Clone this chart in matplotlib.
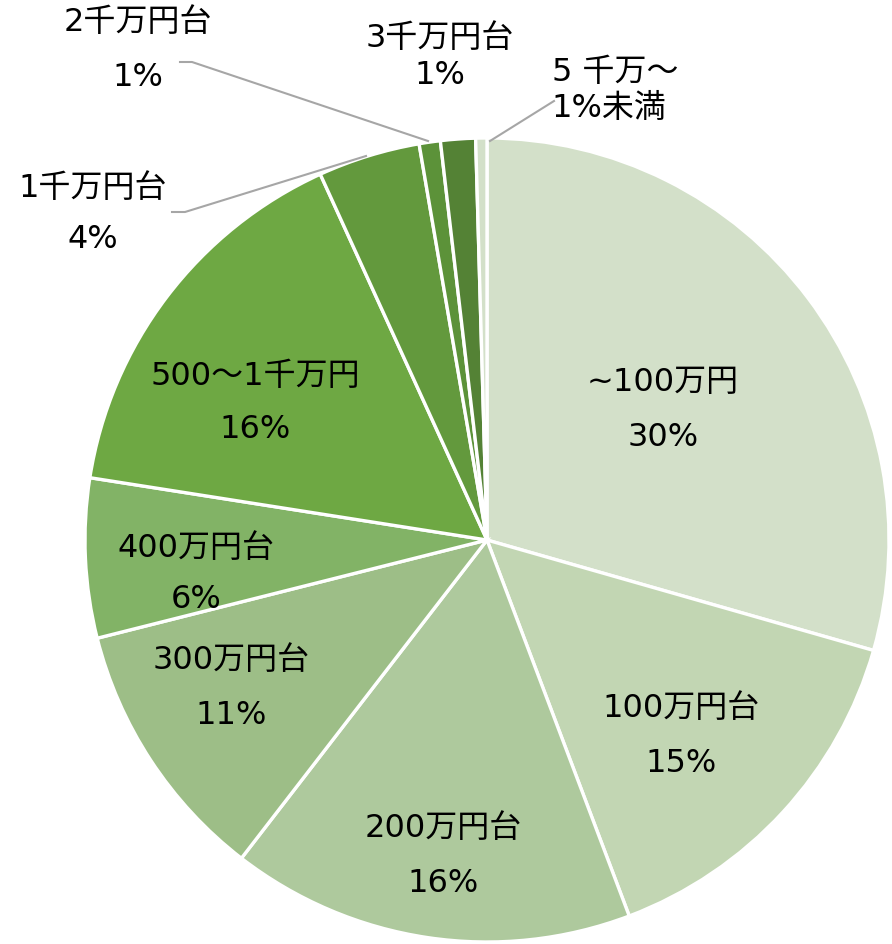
import numpy as np
import matplotlib.pyplot as plt

plt.rcParams['font.family'] = ['DejaVu Sans', 'Noto Sans CJK JP']

labels = ['~100万円', '100万円台', '200万円台', '300万円台', '400万円台',
          '500～1千万円', '1千万円台', '2千万円台', '3千万円台', '5 千万～']
shares = [29.4, 14.8, 16.2, 10.6, 6.4, 15.7, 4.1, 0.85, 1.4, 0.45]
pct_text = ['30%', '15%', '16%', '11%', '6%', '16%', '4%', '1%', '1%', '1%未満']
colors = ['#d3e0c9', '#c2d6b3', '#aec99d', '#9dbe87', '#82b366',
          '#6ea843', '#63993d', '#5c9239', '#548235', '#d3e0c9']

W, H = 892, 944
fig = plt.figure(figsize=(W / 100, H / 100), dpi=100)
ax = fig.add_axes([0, 0, 1, 1])

cx, cy, r = 487, H - 540, 402
ax.pie(shares, colors=colors, startangle=90, counterclock=False,
       center=(cx, cy), radius=r, frame=True,
       wedgeprops=dict(edgecolor='white', linewidth=2.4))
ax.set_xlim(0, W)
ax.set_ylim(0, H)
ax.set_aspect('equal')
ax.axis('off')

# label layout (image pixel coords: x, name line y, percent line y)
pos = [(663, 382, 437), (681, 709, 763), (443, 829, 883), (231, 661, 715),
       (196, 548, 600), (255, 376, 430), (93, 188, 240), (138, 22, 77),
       (440, 38, 76), (615, 72, 108)]
fs = 23
for name, pct, (x, y1, y2) in zip(labels, pct_text, pos):
    ax.text(x, H - y1, name, ha='center', va='center', fontsize=fs, color='black')
    x2 = 609 if pct == '1%未満' else x
    ax.text(x2, H - y2, pct, ha='center', va='center', fontsize=fs, color='black')

# leader lines
lc = '#a6a6a6'
ax.plot([180, 192, 428], [H - 62, H - 62, H - 141], color=lc, lw=1.5)
ax.plot([172, 185, 366], [H - 212, H - 212, H - 156], color=lc, lw=1.5)
ax.plot([490, 554], [H - 141, H - 101], color=lc, lw=1.5)

fig.savefig('out.png', dpi=100)
